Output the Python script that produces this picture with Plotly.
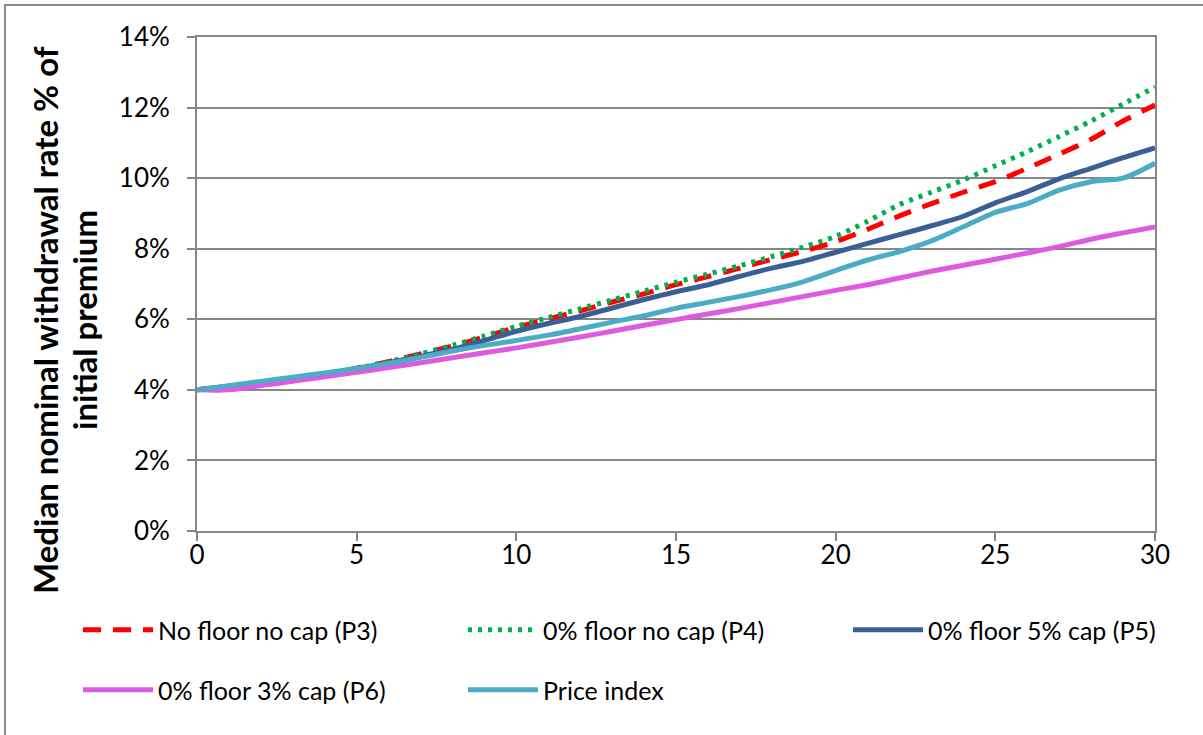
import plotly.graph_objects as go

# Years since purchase
years = list(range(0, 31))

# Median nominal withdrawal rate (% of initial premium) for each product design
p3_no_floor_no_cap = [4.00, 4.10, 4.20, 4.32, 4.45, 4.61, 4.80, 5.02, 5.24, 5.50,
                      5.77, 6.01, 6.24, 6.49, 6.72, 6.98, 7.21, 7.45, 7.70, 7.93,
                      8.20, 8.55, 8.93, 9.28, 9.60, 9.90, 10.28, 10.68, 11.10, 11.62, 12.07]
p4_floor0_no_cap = [4.00, 4.10, 4.20, 4.32, 4.45, 4.61, 4.80, 5.02, 5.26, 5.53,
                    5.80, 6.05, 6.30, 6.55, 6.80, 7.05, 7.28, 7.52, 7.78, 8.05,
                    8.35, 8.78, 9.25, 9.60, 9.95, 10.35, 10.75, 11.18, 11.62, 12.10, 12.58]
p5_floor0_cap5 = [4.00, 4.10, 4.20, 4.32, 4.45, 4.60, 4.77, 4.95, 5.15, 5.40,
                  5.66, 5.88, 6.08, 6.32, 6.56, 6.78, 6.98, 7.22, 7.45, 7.65,
                  7.90, 8.15, 8.40, 8.65, 8.92, 9.30, 9.62, 9.98, 10.28, 10.58, 10.86]
p6_floor0_cap3 = [4.00, 4.00, 4.12, 4.24, 4.37, 4.50, 4.63, 4.77, 4.91, 5.05,
                  5.19, 5.34, 5.50, 5.66, 5.83, 5.99, 6.15, 6.31, 6.48, 6.65,
                  6.82, 6.98, 7.17, 7.36, 7.53, 7.70, 7.88, 8.06, 8.27, 8.45, 8.62]
price_index = [4.00, 4.12, 4.24, 4.36, 4.48, 4.61, 4.75, 4.92, 5.10, 5.26,
               5.40, 5.55, 5.73, 5.92, 6.10, 6.31, 6.48, 6.65, 6.84, 7.07,
               7.38, 7.68, 7.92, 8.22, 8.62, 9.03, 9.28, 9.66, 9.90, 10.00, 10.42]

y_ticks = [0, 2, 4, 6, 8, 10, 12, 14]
y_tick_labels = ["0%", "2%", "4%", "6%", "8%", "10%", "12%", "14%"]
x_ticks = [0, 5, 10, 15, 20, 25, 30]

FONT = "Lato, 'Open Sans', sans-serif"
GRID = "#878787"

W, H = 1203, 735
L, R, T, B = 197, 48, 37, 204
pw, ph = W - L - R, H - T - B


def px_x(px):
    return (px - L) / pw


def px_y(py):
    return (H - B - py) / ph


# name, values, colour, dash, legend id, legend left (px), legend row top (px)
series = [
    ("No floor no cap (P3)", p3_no_floor_no_cap, "#FF0000", "18px,12px", "legend", 78, 607),
    ("0% floor no cap (P4)", p4_floor0_no_cap, "#00B050", "4px,6px", "legend2", 463, 607),
    ("0% floor 5% cap (P5)", p5_floor0_cap5, "#3A5F94", "solid", "legend3", 848, 607),
    ("0% floor 3% cap (P6)", p6_floor0_cap3, "#DD5BE0", "solid", "legend4", 78, 667),
    ("Price index", price_index, "#4BACC6", "solid", "legend5", 463, 667),
]

fig = go.Figure()
legend_layouts = {}
for name, vals, color, dash, leg, lx, ly in series:
    fig.add_trace(go.Scatter(
        x=years, y=vals, name=name, mode="lines", legend=leg,
        line=dict(color=color, width=5, dash=dash, shape="spline", smoothing=0.8),
    ))
    legend_layouts[leg] = dict(
        x=px_x(lx), y=px_y(ly), xanchor="left", yanchor="top",
        orientation="h", itemwidth=70, bgcolor="rgba(0,0,0,0)",
        font=dict(size=25, family=FONT, color="#000000"),
    )

title_lines = ["<b>Median nominal withdrawal rate % of</b>", "<b>initial premium</b>"]
title_x_px = [45, 84]

fig.update_layout(
    width=W, height=H,
    margin=dict(l=L, r=R, t=T, b=B, pad=0),
    paper_bgcolor="white", plot_bgcolor="white",
    font=dict(family=FONT, color="#000000"),
    showlegend=True,
    xaxis=dict(
        range=[0, 30], tickvals=x_ticks, ticks="outside", ticklen=8,
        tickcolor=GRID, tickwidth=1.5, showgrid=False, zeroline=False,
        showline=True, linecolor=GRID, linewidth=2, mirror=True,
        tickfont=dict(size=26, family=FONT), ticklabelstandoff=-8,
    ),
    yaxis=dict(
        range=[0, 14], tickvals=y_ticks, ticktext=y_tick_labels,
        ticks="outside", ticklen=8, tickcolor=GRID, tickwidth=1.5,
        showgrid=True, gridcolor=GRID, gridwidth=1.6, zeroline=False,
        showline=True, linecolor=GRID, linewidth=2, mirror=True,
        tickfont=dict(size=26, family=FONT), ticklabelstandoff=12,
    ),
    shapes=[dict(
        type="rect", xref="paper", yref="paper",
        x0=px_x(5), x1=px_x(1260), y0=px_y(800), y1=px_y(5),
        line=dict(color="#8C8C8C", width=2), fillcolor="rgba(0,0,0,0)", layer="below",
    )],
    annotations=[
        dict(text=t, textangle=-90, xref="paper", yref="paper",
             x=px_x(xp), y=px_y(320), xanchor="center", yanchor="middle",
             showarrow=False, font=dict(size=33, family=FONT))
        for t, xp in zip(title_lines, title_x_px)
    ],
    **legend_layouts,
)

fig.write_html("out.html")
